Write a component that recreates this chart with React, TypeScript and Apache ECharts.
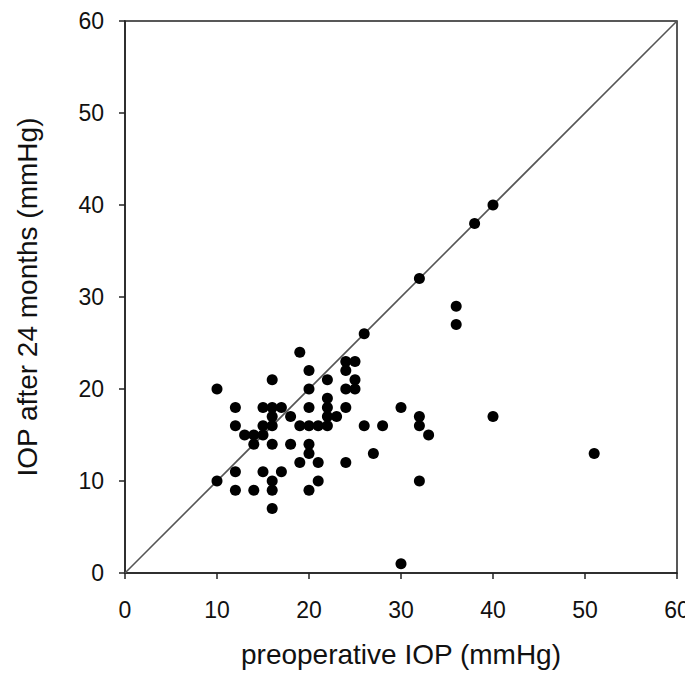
import React, { useEffect, useRef } from "react";
import * as echarts from "echarts";

const preopIOP: number[] = [
  10, 10, 12, 12, 12, 12, 13, 14, 14, 14, 15, 15, 15, 15, 16, 16, 16, 16, 16, 16, 16, 16,
  17, 17, 18, 18, 19, 19, 19, 20, 20, 20, 20, 20, 20, 20, 21, 21, 21, 22, 22, 22, 22, 22,
  23, 24, 24, 24, 24, 24, 25, 25, 25, 26, 26, 27, 28, 30, 30, 32, 32, 32, 32, 33, 36, 36,
  38, 40, 40, 51,
];
const iop24m: number[] = [
  20, 10, 18, 16, 11, 9, 15, 15, 14, 9, 18, 16, 15, 11, 21, 18, 17, 16, 14, 10, 9, 7,
  18, 11, 17, 14, 24, 16, 12, 22, 20, 18, 16, 14, 13, 9, 16, 12, 10, 21, 19, 18, 17, 16,
  17, 23, 22, 20, 18, 12, 23, 21, 20, 26, 16, 13, 16, 18, 1, 32, 17, 16, 10, 15, 29, 27,
  38, 40, 17, 13,
];
const identityLine: number[][] = [
  [0, 0],
  [60, 60],
];
const xName = "preoperative IOP (mmHg)";
const yName = "IOP after 24 months (mmHg)";

export default function App() {
  const ref = useRef<HTMLDivElement>(null);
  useEffect(() => {
    if (!ref.current) return;
    const chart = echarts.init(ref.current, undefined, { renderer: "svg" });
    const pts = preopIOP.map((x, i) => [x, iop24m[i]]);
    const font = "Liberation Sans, Arial, Helvetica, sans-serif";
    const axisCommon = {
      type: "value" as const,
      min: 0,
      max: 60,
      interval: 10,
      splitLine: { show: false },
      axisLine: { show: true, onZero: false, lineStyle: { color: "#222", width: 1.5 } },
      axisTick: { show: true, inside: false, length: 6, lineStyle: { color: "#222", width: 1.5 } },
      nameLocation: "middle" as const,
      nameTextStyle: { fontFamily: font, fontSize: 28, color: "#111" },
    };
    chart.setOption({
      animation: false,
      backgroundColor: "#fff",
      grid: {
        left: 125,
        right: 16,
        top: 21,
        bottom: 105,
        show: true,
        borderColor: "#222",
        borderWidth: 1.5,
        backgroundColor: "transparent",
      },
      xAxis: {
        ...axisCommon,
        name: xName,
        nameGap: 67,
        axisLabel: { fontFamily: font, fontSize: 23, color: "#111", margin: 25 },
      },
      yAxis: {
        ...axisCommon,
        name: yName,
        nameGap: 84,
        axisLabel: { fontFamily: font, fontSize: 23, color: "#111", margin: 21 },
      },
      series: [
        {
          type: "line",
          data: identityLine,
          symbol: "none",
          lineStyle: { color: "#555", width: 1.6 },
          silent: true,
          z: 1,
        },
        {
          type: "scatter",
          data: pts,
          symbol: "circle",
          symbolSize: 11,
          itemStyle: { color: "#000", opacity: 1 },
          z: 3,
        },
      ],
    });
    return () => chart.dispose();
  }, []);
  return <div ref={ref} style={{ width: 693, height: 678, margin: -8 }} />;
}
